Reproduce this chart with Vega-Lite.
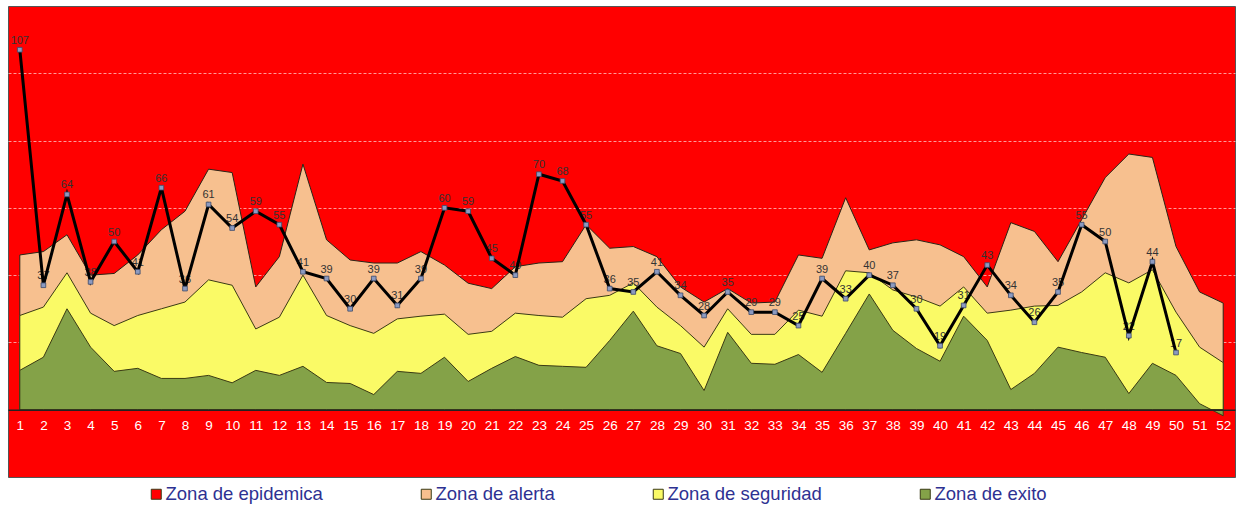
{
  "$schema": "https://vega.github.io/schema/vega-lite/v6.json",
  "width": 1227,
  "height": 471,
  "autosize": {"type": "none"},
  "padding": {"left": 8, "top": 6, "right": 4, "bottom": 34},
  "background": "white",
  "config": {
    "view": {"fill": "#FF0000", "stroke": "#555555", "strokeWidth": 1},
    "font": "Liberation Sans"
  },
  "data": {
    "values": [
      {"semana": 1, "exito": 11.7, "seguridad": 28, "alerta": 46, "casos": 107},
      {"semana": 2, "exito": 15.6, "seguridad": 30.5, "alerta": 47, "casos": 37},
      {"semana": 3, "exito": 30, "seguridad": 40.7, "alerta": 52, "casos": 64},
      {"semana": 4, "exito": 18.6, "seguridad": 28.7, "alerta": 40, "casos": 38},
      {"semana": 5, "exito": 11.4, "seguridad": 25, "alerta": 40.5, "casos": 50},
      {"semana": 6, "exito": 12.3, "seguridad": 28, "alerta": 46, "casos": 41},
      {"semana": 7, "exito": 9.3, "seguridad": 30, "alerta": 53.5, "casos": 66},
      {"semana": 8, "exito": 9.3, "seguridad": 32, "alerta": 59, "casos": 36},
      {"semana": 9, "exito": 10.2, "seguridad": 38.6, "alerta": 71.5, "casos": 61},
      {"semana": 10, "exito": 8, "seguridad": 37, "alerta": 70.5, "casos": 54},
      {"semana": 11, "exito": 11.7, "seguridad": 24, "alerta": 36.5, "casos": 59},
      {"semana": 12, "exito": 10.2, "seguridad": 27.5, "alerta": 45.5, "casos": 55},
      {"semana": 13, "exito": 12.9, "seguridad": 40, "alerta": 73, "casos": 41},
      {"semana": 14, "exito": 8.1, "seguridad": 28, "alerta": 50.5, "casos": 39},
      {"semana": 15, "exito": 7.8, "seguridad": 25, "alerta": 44.5, "casos": 30},
      {"semana": 16, "exito": 4.5, "seguridad": 22.7, "alerta": 43.6, "casos": 39},
      {"semana": 17, "exito": 11.4, "seguridad": 27, "alerta": 43.6, "casos": 31},
      {"semana": 18, "exito": 10.8, "seguridad": 27.8, "alerta": 47, "casos": 39},
      {"semana": 19, "exito": 15.6, "seguridad": 28.4, "alerta": 43, "casos": 60},
      {"semana": 20, "exito": 8.4, "seguridad": 22.4, "alerta": 37.6, "casos": 59},
      {"semana": 21, "exito": 12.3, "seguridad": 23.3, "alerta": 36, "casos": 45},
      {"semana": 22, "exito": 15.8, "seguridad": 28.7, "alerta": 42.5, "casos": 40},
      {"semana": 23, "exito": 13.2, "seguridad": 28, "alerta": 43.6, "casos": 70},
      {"semana": 24, "exito": 12.9, "seguridad": 27.5, "alerta": 44, "casos": 68},
      {"semana": 25, "exito": 12.6, "seguridad": 33, "alerta": 55, "casos": 55},
      {"semana": 26, "exito": 20.6, "seguridad": 34, "alerta": 48, "casos": 36},
      {"semana": 27, "exito": 29.3, "seguridad": 37.7, "alerta": 48.5, "casos": 35},
      {"semana": 28, "exito": 19, "seguridad": 30.5, "alerta": 45.5, "casos": 41},
      {"semana": 29, "exito": 16.7, "seguridad": 25, "alerta": 36.5, "casos": 34},
      {"semana": 30, "exito": 5.7, "seguridad": 18.6, "alerta": 32, "casos": 28},
      {"semana": 31, "exito": 23, "seguridad": 30, "alerta": 36, "casos": 35},
      {"semana": 32, "exito": 13.8, "seguridad": 22.4, "alerta": 31.7, "casos": 29},
      {"semana": 33, "exito": 13.5, "seguridad": 22.4, "alerta": 32, "casos": 29},
      {"semana": 34, "exito": 16.4, "seguridad": 29.6, "alerta": 46, "casos": 25},
      {"semana": 35, "exito": 11.1, "seguridad": 27.8, "alerta": 45, "casos": 39},
      {"semana": 36, "exito": 22.7, "seguridad": 41.3, "alerta": 63, "casos": 33},
      {"semana": 37, "exito": 34.4, "seguridad": 40.7, "alerta": 47.5, "casos": 40},
      {"semana": 38, "exito": 23.6, "seguridad": 35.6, "alerta": 49.6, "casos": 37},
      {"semana": 39, "exito": 18.2, "seguridad": 33.5, "alerta": 50.5, "casos": 30},
      {"semana": 40, "exito": 14.4, "seguridad": 30.8, "alerta": 49, "casos": 19},
      {"semana": 41, "exito": 27.8, "seguridad": 36.5, "alerta": 45.5, "casos": 31},
      {"semana": 42, "exito": 20.6, "seguridad": 28.7, "alerta": 36.5, "casos": 43},
      {"semana": 43, "exito": 6, "seguridad": 29.6, "alerta": 55.6, "casos": 34},
      {"semana": 44, "exito": 10.8, "seguridad": 30.8, "alerta": 53, "casos": 26},
      {"semana": 45, "exito": 18.6, "seguridad": 31, "alerta": 44, "casos": 35},
      {"semana": 46, "exito": 17, "seguridad": 35, "alerta": 56.5, "casos": 55},
      {"semana": 47, "exito": 15.6, "seguridad": 40.7, "alerta": 69, "casos": 50},
      {"semana": 48, "exito": 4.8, "seguridad": 37.7, "alerta": 76, "casos": 22},
      {"semana": 49, "exito": 13.8, "seguridad": 41.6, "alerta": 75, "casos": 44},
      {"semana": 50, "exito": 10.2, "seguridad": 29, "alerta": 48.5, "casos": 17},
      {"semana": 51, "exito": 1.8, "seguridad": 18.6, "alerta": 35, "casos": null},
      {"semana": 52, "exito": -1.8, "seguridad": 14, "alerta": 31.7, "casos": null}
    ]
  },
  "encoding": {
    "x": {
      "field": "semana",
      "type": "quantitative",
      "scale": {"domain": [0.5, 52.5], "nice": false, "zero": false},
      "axis": {
        "values": [1,2,3,4,5,6,7,8,9,10,11,12,13,14,15,16,17,18,19,20,21,22,23,24,25,26,27,28,29,30,31,32,33,34,35,36,37,38,39,40,41,42,43,44,45,46,47,48,49,50,51,52],
        "format": "d",
        "orient": "bottom",
        "offset": -67.3,
        "zindex": 1,
        "domainColor": "#222222",
        "domainWidth": 1.5,
        "ticks": false,
        "grid": false,
        "title": null,
        "labelColor": "white",
        "labelFontSize": 13.5,
        "labelPadding": 9,
        "labelFlush": false,
        "labelOverlap": false
      }
    }
  },
  "layer": [
    {
      "mark": {"type": "area", "stroke": "#2a2416", "strokeWidth": 1},
      "encoding": {
        "y": {
          "field": "alerta",
          "type": "quantitative",
          "scale": {"domain": [-20, 120], "nice": false, "zero": false},
          "axis": {
            "values": [20, 40, 60, 80, 100],
            "labels": false,
            "ticks": false,
            "domain": false,
            "title": null,
            "grid": true,
            "gridColor": "#ffffff",
            "gridOpacity": 0.6,
            "gridDash": [3, 2],
            "gridWidth": 1,
            "zindex": 0
          }
        },
        "y2": {"datum": 0},
        "color": {
          "datum": "Zona de alerta",
          "scale": {
            "domain": ["Zona de epidemica", "Zona de alerta", "Zona de seguridad", "Zona de exito"],
            "range": ["#FF0000", "#F7C08F", "#FAFA66", "#84A248"]
          },
          "legend": {
            "orient": "none",
            "legendX": 139,
            "legendY": 479,
            "direction": "horizontal",
            "columns": 4,
            "gridAlign": "none",
            "columnPadding": 94,
            "padding": 0,
            "title": null,
            "symbolType": "square",
            "symbolSize": 100,
            "symbolStrokeColor": "#444444",
            "symbolStrokeWidth": 1,
            "symbolOpacity": 1,
            "labelFontSize": 18.5,
            "labelColor": "#2E3192",
            "labelOffset": 0,
            "labelLimit": 300
          }
        }
      }
    },
    {
      "mark": {"type": "area", "stroke": "#3a3a14", "strokeWidth": 1},
      "encoding": {
        "y": {"field": "seguridad", "type": "quantitative"},
        "y2": {"datum": 0},
        "color": {"datum": "Zona de seguridad"}
      }
    },
    {
      "mark": {"type": "area", "stroke": "#3a3a14", "strokeWidth": 1},
      "encoding": {
        "y": {"field": "exito", "type": "quantitative"},
        "y2": {"datum": 0},
        "color": {"datum": "Zona de exito"}
      }
    },
    {
      "transform": [{"filter": "datum.casos != null"}],
      "mark": {"type": "text", "baseline": "bottom", "dy": -4, "fontSize": 11, "color": "#333333"},
      "encoding": {
        "y": {"field": "casos", "type": "quantitative"},
        "text": {"field": "casos", "type": "quantitative"}
      }
    },
    {
      "transform": [{"filter": "datum.casos != null"}],
      "mark": {"type": "line", "color": "#000000", "strokeWidth": 3},
      "encoding": {
        "y": {"field": "casos", "type": "quantitative"}
      }
    },
    {
      "transform": [{"filter": "datum.casos != null"}],
      "mark": {"type": "point", "shape": "square", "size": 22, "filled": true, "color": "#8C9AC0", "stroke": "#3C4A6A", "strokeWidth": 0.8, "opacity": 1},
      "encoding": {
        "y": {"field": "casos", "type": "quantitative"}
      }
    }
  ]
}
